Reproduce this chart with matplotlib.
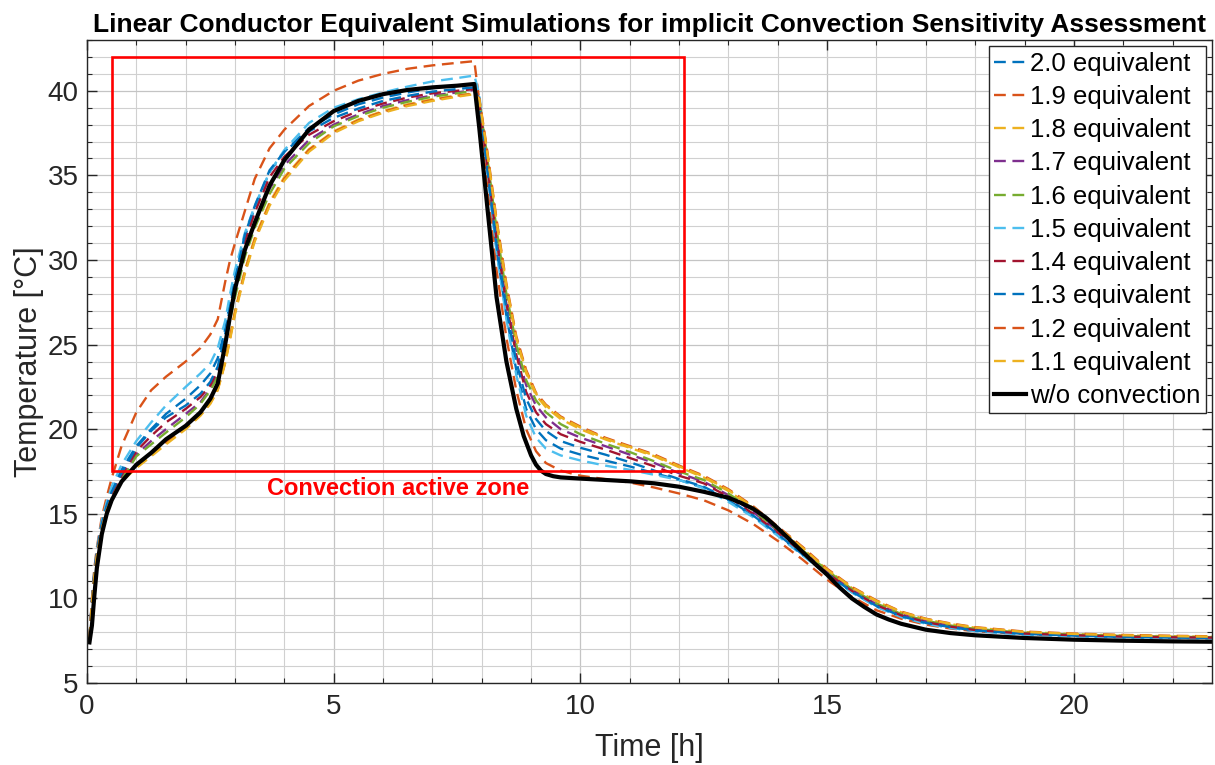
import matplotlib
matplotlib.use("Agg")
import matplotlib.pyplot as plt
from matplotlib.ticker import MultipleLocator
from matplotlib.patches import Rectangle

plt.rcParams['font.family'] = ['Liberation Sans', 'DejaVu Sans']

# ---------------- data ----------------
time_h = [0.05, 0.1, 0.15, 0.2, 0.3, 0.4, 0.5, 0.7, 1.0, 1.3, 1.6, 2.0, 2.3, 2.5, 2.65, 2.8, 2.9, 3.0,
          3.2, 3.4, 3.7, 4.0, 4.5, 5.0, 5.5, 6.0, 6.5, 7.0, 7.5, 7.85, 7.95, 8.1, 8.3, 8.5, 8.7, 8.9,
          9.1, 9.3, 9.6, 10.0, 10.5, 11.0, 11.5, 12.0, 12.5, 13.0, 13.5, 14.0, 14.5, 15.0, 15.5, 16.0,
          16.5, 17.0, 17.5, 18.0, 19.0, 20.0, 21.0, 22.0, 22.8]

eq_2_0 = [7.6, 9.9, 11.6, 12.8, 14.5, 15.6, 16.4, 17.6, 19.0, 20.0, 20.9, 21.8, 22.6, 23.3, 24.2, 25.9, 27.5, 29.0,
          31.4, 33.1, 35.2, 36.4, 37.8, 38.6, 39.2, 39.6, 39.9, 40.15, 40.3, 40.4, 39.5, 35.6, 30.6, 26.7, 23.5, 21.2,
          20.0, 19.35, 18.85, 18.5, 18.15, 17.8, 17.4, 17.0, 16.55, 15.8, 14.85, 13.75, 12.6, 11.42, 10.38, 9.52,
          8.92, 8.52, 8.27, 8.08, 7.88, 7.78, 7.71, 7.67, 7.65]
eq_1_9 = [7.6, 10.0, 11.8, 13.0, 14.8, 16.0, 17.1, 19.0, 21.0, 22.3, 23.1, 24.0, 24.8, 25.6, 26.5, 28.7, 30.0, 31.0,
          32.9, 34.8, 36.6, 37.7, 39.1, 40.0, 40.6, 41.0, 41.3, 41.5, 41.65, 41.75, 39.4, 35.0, 29.4, 25.4, 22.3, 20.0,
          18.7, 18.0, 17.55, 17.25, 17.05, 16.85, 16.55, 16.2, 15.8, 15.2, 14.4, 13.4, 12.3, 11.1, 10.1, 9.3,
          8.8, 8.45, 8.22, 8.06, 7.9, 7.82, 7.76, 7.72, 7.7]
eq_1_8 = [7.6, 9.7, 11.35, 12.55, 14.15, 15.25, 16.0, 17.0, 17.9, 18.6, 19.3, 20.15, 20.9, 21.6, 22.4, 24.0, 25.5, 27.0,
          29.4, 31.3, 33.4, 34.9, 36.55, 37.6, 38.3, 38.8, 39.2, 39.5, 39.72, 39.85, 39.5, 36.5, 32.2, 28.4, 25.3, 23.3,
          22.0, 21.3, 20.6, 20.0, 19.4, 18.9, 18.4, 17.75, 17.15, 16.35, 15.35, 14.15, 12.95, 11.7, 10.62, 9.82,
          9.18, 8.76, 8.48, 8.27, 8.01, 7.89, 7.81, 7.76, 7.73]
eq_1_7 = [7.6, 9.75, 11.4, 12.6, 14.25, 15.35, 16.1, 17.1, 18.5, 19.3, 20.0, 20.9, 21.6, 22.4, 23.2, 25.1, 26.8, 28.1,
          30.5, 32.2, 34.2, 35.6, 37.1, 38.0, 38.6, 39.1, 39.45, 39.72, 39.9, 40.05, 39.35, 36.1, 31.5, 27.7, 24.7, 22.6,
          21.4, 20.7, 20.0, 19.5, 19.0, 18.5, 18.0, 17.4, 16.9, 16.1, 15.1, 14.0, 12.8, 11.6, 10.5, 9.65,
          9.05, 8.65, 8.38, 8.18, 7.95, 7.84, 7.77, 7.72, 7.7]
eq_1_6 = [7.6, 9.7, 11.4, 12.6, 14.2, 15.3, 16.0, 17.0, 18.4, 19.1, 19.8, 20.7, 21.5, 22.3, 23.1, 24.9, 26.5, 27.8,
          30.2, 31.9, 33.9, 35.4, 36.9, 37.9, 38.5, 39.0, 39.35, 39.65, 39.85, 40.0, 39.4, 36.3, 31.8, 28.0, 25.0, 22.9,
          21.7, 21.0, 20.3, 19.7, 19.15, 18.65, 18.1, 17.5, 17.0, 16.2, 15.2, 14.05, 12.85, 11.65, 10.55, 9.7,
          9.08, 8.68, 8.4, 8.2, 7.97, 7.86, 7.78, 7.73, 7.71]
eq_1_5 = [7.6, 9.9, 11.7, 12.9, 14.6, 15.7, 16.6, 17.9, 19.3, 20.4, 21.4, 22.5, 23.3, 23.9, 24.8, 26.4, 28.0, 29.4,
          31.6, 33.2, 35.2, 36.5, 38.1, 39.0, 39.5, 39.9, 40.25, 40.55, 40.75, 40.9, 39.8, 35.8, 30.5, 26.5, 23.2, 20.8,
          19.5, 18.85, 18.45, 18.15, 17.85, 17.6, 17.3, 17.0, 16.5, 15.7, 14.8, 13.7, 12.55, 11.4, 10.35, 9.5,
          8.9, 8.5, 8.25, 8.06, 7.86, 7.76, 7.7, 7.66, 7.64]
eq_1_4 = [7.6, 9.8, 11.5, 12.7, 14.3, 15.4, 16.2, 17.3, 18.7, 19.6, 20.4, 21.2, 21.9, 22.6, 23.5, 25.4, 27.0, 28.6,
          31.1, 32.8, 34.9, 36.1, 37.4, 38.2, 38.8, 39.25, 39.6, 39.85, 40.0, 40.1, 39.3, 35.9, 31.2, 27.4, 24.4, 22.2,
          21.0, 20.3, 19.7, 19.25, 18.8, 18.3, 17.8, 17.25, 16.8, 16.0, 15.0, 13.9, 12.7, 11.5, 10.45, 9.6,
          9.0, 8.6, 8.33, 8.13, 7.92, 7.82, 7.74, 7.7, 7.68]
eq_1_3 = [7.6, 9.8, 11.5, 12.7, 14.4, 15.5, 16.3, 17.4, 18.9, 19.9, 20.7, 21.4, 22.1, 22.8, 23.7, 25.6, 27.2, 28.8,
          31.5, 33.2, 35.3, 36.4, 37.6, 38.4, 38.95, 39.4, 39.7, 39.95, 40.1, 40.2, 39.3, 35.7, 30.9, 27.1, 24.0, 21.8,
          20.6, 19.9, 19.3, 18.9, 18.5, 18.05, 17.55, 17.05, 16.6, 15.85, 14.9, 13.8, 12.6, 11.45, 10.4, 9.55,
          8.95, 8.55, 8.3, 8.1, 7.9, 7.8, 7.72, 7.68, 7.66]
eq_1_2 = [7.6, 9.7, 11.3, 12.5, 14.1, 15.2, 15.95, 16.95, 17.8, 18.5, 19.2, 20.1, 20.85, 21.55, 22.35, 23.95, 25.4, 26.9,
          29.3, 31.2, 33.3, 34.8, 36.5, 37.55, 38.25, 38.75, 39.15, 39.45, 39.7, 39.82, 39.55, 36.7, 32.4, 28.6, 25.5, 23.5,
          22.15, 21.45, 20.75, 20.15, 19.5, 19.0, 18.5, 17.85, 17.25, 16.45, 15.45, 14.25, 13.05, 11.75, 10.68, 9.88,
          9.22, 8.8, 8.52, 8.3, 8.04, 7.92, 7.84, 7.79, 7.76]
eq_1_1 = [7.6, 9.7, 11.3, 12.5, 14.1, 15.2, 15.9, 16.9, 17.7, 18.4, 19.1, 20.0, 20.8, 21.5, 22.3, 23.9, 25.3, 26.8,
          29.2, 31.1, 33.2, 34.7, 36.4, 37.5, 38.2, 38.7, 39.1, 39.4, 39.65, 39.8, 39.5, 36.6, 32.3, 28.5, 25.4, 23.4,
          22.1, 21.4, 20.7, 20.1, 19.45, 18.95, 18.45, 17.8, 17.2, 16.4, 15.4, 14.2, 13.0, 11.7, 10.65, 9.85,
          9.2, 8.78, 8.5, 8.28, 8.02, 7.9, 7.82, 7.77, 7.74]

black_time_h = [0.05, 0.1, 0.15, 0.2, 0.3, 0.4, 0.5, 0.7, 1.0, 1.3, 1.6, 2.0, 2.3, 2.5, 2.65, 2.8, 2.9, 3.0,
                3.2, 3.4, 3.7, 4.0, 4.5, 5.0, 5.5, 6.0, 6.5, 7.0, 7.5, 7.85, 7.95, 8.1, 8.3, 8.5, 8.7, 8.85,
                9.0, 9.1, 9.2, 9.3, 9.45, 9.6, 10.0, 10.5, 11.0, 11.5, 12.0, 12.5, 13.0, 13.25, 13.5, 13.75,
                14.0, 14.25, 14.5, 14.75, 15.0, 15.25, 15.5, 15.75, 16.0, 16.25, 16.5, 17.0, 17.5, 18.0,
                19.0, 20.0, 21.0, 22.0, 22.8]
no_convection = [7.4, 8.4, 10.2, 11.8, 13.8, 15.0, 15.8, 16.9, 17.9, 18.6, 19.4, 20.2, 21.0, 21.8, 22.7, 25.0, 26.7, 28.3,
                 30.6, 32.2, 34.4, 35.9, 37.7, 38.8, 39.4, 39.8, 40.05, 40.2, 40.3, 40.4, 37.8, 33.5, 27.8, 24.0, 21.2, 19.6,
                 18.45, 17.9, 17.55, 17.35, 17.22, 17.15, 17.08, 17.0, 16.92, 16.8, 16.6, 16.3, 15.95, 15.65, 15.3, 14.8,
                 14.15, 13.45, 12.75, 12.05, 11.4, 10.65, 10.0, 9.5, 9.05, 8.75, 8.5, 8.15, 7.95, 7.82,
                 7.66, 7.56, 7.5, 7.46, 7.44]

series_labels = ['2.0 equivalent', '1.9 equivalent', '1.8 equivalent', '1.7 equivalent', '1.6 equivalent',
                 '1.5 equivalent', '1.4 equivalent', '1.3 equivalent', '1.2 equivalent', '1.1 equivalent']
series_values = [eq_2_0, eq_1_9, eq_1_8, eq_1_7, eq_1_6, eq_1_5, eq_1_4, eq_1_3, eq_1_2, eq_1_1]
series_colors = ['#0072BD', '#D95319', '#EDB120', '#7E2F8E', '#77AC30',
                 '#4DBEEE', '#A2142F', '#0072BD', '#D95319', '#EDB120']

zone_x = [0.5, 12.1]
zone_y = [17.5, 42.0]
zone_label = 'Convection active zone'

# ---------------- figure ----------------
fig = plt.figure(figsize=(12.15, 7.65), dpi=100)
ax = fig.add_axes([87 / 1215, 1 - 683 / 765, 1125 / 1215, 643 / 765])

dark = '#262626'
for lab, vals, col in zip(series_labels, series_values, series_colors):
    ax.plot(time_h, vals, color=col, lw=1.7, linestyle=(0, (5, 2.8)), label=lab)
ax.plot(black_time_h, no_convection, color='black', lw=3.0, label='w/o convection')

ax.add_patch(Rectangle((zone_x[0], zone_y[0]), zone_x[1] - zone_x[0], zone_y[1] - zone_y[0],
                       fill=False, edgecolor='#FF0000', lw=1.9, zorder=5))
ax.text((zone_x[0] + zone_x[1]) / 2, zone_y[0] - 0.3, zone_label, color='#FF0000',
        fontsize=17, fontweight='bold', ha='center', va='top')

ax.set_xlim(0, 22.8)
ax.set_ylim(5, 43)
ax.xaxis.set_major_locator(MultipleLocator(5))
ax.xaxis.set_minor_locator(MultipleLocator(1))
ax.yaxis.set_major_locator(MultipleLocator(5))
ax.yaxis.set_minor_locator(MultipleLocator(1))
ax.grid(which='major', color='#c4c4c4', lw=0.9)
ax.grid(which='minor', color='#d0d0d0', lw=0.8)
ax.set_axisbelow(True)
ax.tick_params(which='both', direction='in', top=True, right=True, colors=dark, labelcolor=dark)
ax.tick_params(which='major', length=7, width=1, labelsize=20)
ax.tick_params(axis='x', which='major', pad=8)
ax.tick_params(axis='y', which='major', pad=6)
ax.tick_params(which='minor', length=3.5, width=0.8)
for s in ax.spines.values():
    s.set_color(dark)
    s.set_linewidth(1.0)

ax.set_xlabel('Time [h]', fontsize=22, color=dark, labelpad=9)
ax.set_ylabel('Temperature [°C]', fontsize=22, color=dark, labelpad=3)
ax.set_title('Linear Conductor Equivalent Simulations for implicit Convection Sensitivity Assessment',
             fontsize=19, fontweight='bold', color='black', pad=6)

leg = ax.legend(loc='upper right', fontsize=18.5, handlelength=1.25, handletextpad=0.15,
                borderpad=0.2, labelspacing=0.36, borderaxespad=0.25, fancybox=False,
                framealpha=1, edgecolor=dark)
leg.get_frame().set_linewidth(1.0)

fig.savefig('out.png', dpi=100)
